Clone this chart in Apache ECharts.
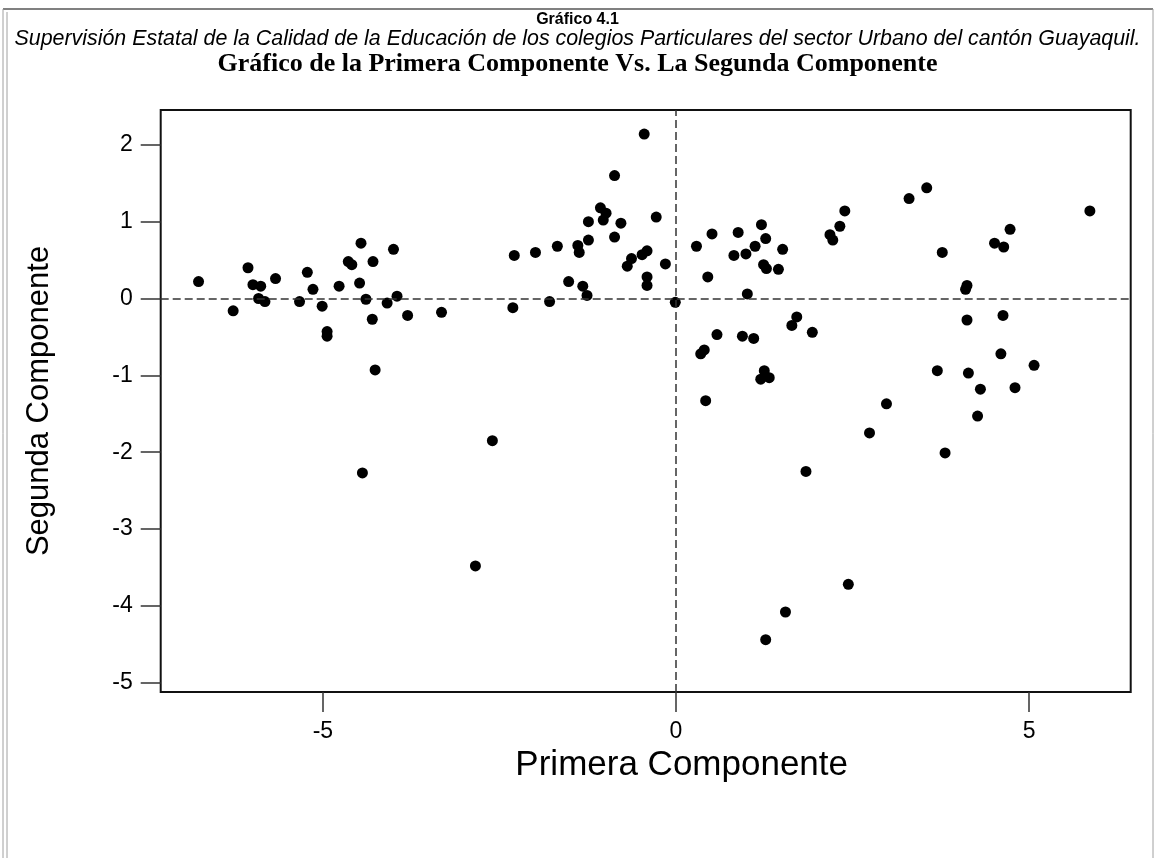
<!DOCTYPE html>
<html>
<head>
<meta charset="utf-8">
<script src="https://cdn.jsdelivr.net/npm/echarts@6/dist/echarts.min.js"></script>
<style>
html,body{margin:0;padding:0;background:#fff;}
#chart{width:1155px;height:858px;}
</style>
</head>
<body>
<div id="chart"></div>
<script>
// Data: [Primera Componente, Segunda Componente]
const pointsLeft = [
  [-6.76,0.22],[-6.27,-0.16],[-6.06,0.40],[-5.99,0.18],[-5.88,0.16],[-5.91,0.00],[-5.82,-0.04],
  [-5.67,0.26],[-5.33,-0.04],[-5.22,0.34],[-5.14,0.12],[-5.01,-0.10],[-4.94,-0.43],[-4.94,-0.49],
  [-4.77,0.16],[-4.64,0.48],[-4.59,0.44],[-4.48,0.20],[-4.46,0.72],[-4.39,-0.01],[-4.29,0.48],
  [-4.30,-0.27],[-4.09,-0.06],[-4.00,0.64],[-3.95,0.03],[-3.80,-0.22],[-4.26,-0.93],[-4.44,-2.27]
];
const pointsMiddle = [
  [-3.32,-0.18],[-2.29,0.56],[-2.31,-0.12],[-1.99,0.60],[-1.79,-0.04],[-1.68,0.68],[-1.52,0.22],
  [-1.39,0.69],[-1.37,0.60],[-1.32,0.16],[-1.26,0.04],[-1.24,1.00],[-1.24,0.76],[-1.07,1.18],
  [-0.99,1.11],[-1.03,1.02],[-0.87,1.60],[-0.78,0.98],[-0.87,0.80],[-0.69,0.42],[-0.63,0.52],
  [-0.48,0.57],[-0.41,0.62],[-0.45,2.14],[-0.41,0.28],[-0.41,0.17],[-0.28,1.06],[-0.15,0.45],
  [-0.01,-0.05],[-2.60,-1.85],[-2.84,-3.48]
];
const pointsRight = [
  [0.29,0.68],[0.35,-0.72],[0.40,-0.67],[0.45,0.28],[0.51,0.84],[0.82,0.56],[0.88,0.86],[0.99,0.58],
  [1.01,0.06],[1.12,0.68],[1.21,0.96],[1.27,0.78],[1.24,0.44],[1.28,0.39],[1.45,0.38],[1.51,0.64],
  [2.18,0.83],[2.22,0.76],[2.32,0.94],[2.39,1.14],[3.30,1.30],[1.64,-0.35],[1.71,-0.24],[1.93,-0.44],
  [0.58,-0.47],[0.94,-0.49],[1.10,-0.52],[0.42,-1.33],[1.25,-0.94],[1.20,-1.05],[1.32,-1.03],
  [2.98,-1.37],[2.74,-1.75],[1.84,-2.25],[3.81,-2.01],[2.44,-3.72],[1.55,-4.08],[1.27,-4.44],
  [3.55,1.44],[3.77,0.60],[5.86,1.14],[4.73,0.90],[4.51,0.72],[4.64,0.67],[4.12,0.17],[4.10,0.12],
  [4.12,-0.28],[4.63,-0.22],[3.70,-0.94],[4.14,-0.97],[4.60,-0.72],[5.07,-0.87],[4.31,-1.18],
  [4.80,-1.16],[4.27,-1.53]
];
const xTicks = [-5, 0, 5];
const yTicks = [-5, -4, -3, -2, -1, 0, 1, 2];
const xRange = [-7.296, 6.438];
const yRange = [-5.121, 2.453];
const titleMain = 'Gráfico 4.1';
const titleSub = 'Supervisión Estatal de la Calidad de la Educación de los colegios Particulares del sector Urbano del cantón Guayaquil.';
const titleChart = 'Gráfico de la Primera Componente Vs. La Segunda Componente';
const xName = 'Primera Componente';
const yName = 'Segunda Componente';

const allPoints = pointsLeft.concat(pointsMiddle, pointsRight);

const chart = echarts.init(document.getElementById('chart'), null, {renderer: 'canvas'});
chart.setOption({
  backgroundColor: '#fff',
  animation: false,
  title: [
    {text: titleMain, left: 'center', top: 7,
     textStyle: {fontFamily: 'Liberation Sans', fontWeight: 'bold', fontSize: 16, color: '#000'}},
    {text: titleSub, left: 'center', top: 24,
     textStyle: {fontFamily: 'Liberation Sans', fontStyle: 'italic', fontWeight: 'normal', fontSize: 21.4, color: '#000'}},
    {text: titleChart, left: 'center', top: 46,
     textStyle: {fontFamily: 'Liberation Serif', fontWeight: 'bold', fontSize: 26, color: '#000'}}
  ],
  graphic: [
    {type: 'line', shape: {x1: 3, y1: 9, x2: 1153, y2: 9}, style: {stroke: '#808080', lineWidth: 2}},
    {type: 'line', shape: {x1: 3, y1: 9, x2: 3, y2: 858}, style: {stroke: '#a0a0a0', lineWidth: 1}},
    {type: 'line', shape: {x1: 7, y1: 12, x2: 7, y2: 858}, style: {stroke: '#a0a0a0', lineWidth: 1}},
    {type: 'line', shape: {x1: 1153, y1: 9, x2: 1153, y2: 858}, style: {stroke: '#a0a0a0', lineWidth: 1}}
  ],
  grid: {left: 160.7, top: 110, right: 24.3, bottom: 166, show: true,
         borderColor: '#111', borderWidth: 2, backgroundColor: '#fff'},
  xAxis: {
    type: 'value', min: xRange[0], max: xRange[1],
    name: xName, nameLocation: 'middle', nameGap: 56,
    nameTextStyle: {fontFamily: 'Liberation Sans', fontSize: 35, color: '#000', padding: [0, 0, 0, 72]},
    axisLine: {show: false, onZero: false},
    axisTick: {show: true, length: 20, inside: false, customValues: xTicks, lineStyle: {color: '#333', width: 1.5}},
    axisLabel: {customValues: xTicks, margin: 28, fontFamily: 'Liberation Sans', fontSize: 23, color: '#000'},
    splitLine: {show: false}
  },
  yAxis: {
    type: 'value', min: yRange[0], max: yRange[1],
    name: yName, nameLocation: 'middle', nameGap: 106,
    nameTextStyle: {fontFamily: 'Liberation Sans', fontSize: 31, color: '#000'},
    axisLine: {show: false, onZero: false},
    axisTick: {show: true, length: 20, inside: false, customValues: yTicks, lineStyle: {color: '#333', width: 1.5}},
    axisLabel: {customValues: yTicks, margin: 28, fontFamily: 'Liberation Sans', fontSize: 23, color: '#000'},
    splitLine: {show: false}
  },
  series: [{
    type: 'scatter',
    data: allPoints,
    symbol: 'circle',
    symbolSize: 11,
    itemStyle: {color: '#000', opacity: 1},
    markLine: {
      silent: true,
      symbol: ['none', 'none'],
      label: {show: false},
      lineStyle: {color: '#333', width: 1.5, type: [8, 4]},
      data: [{xAxis: 0}, {yAxis: 0}]
    }
  }]
});
</script>
</body>
</html>
